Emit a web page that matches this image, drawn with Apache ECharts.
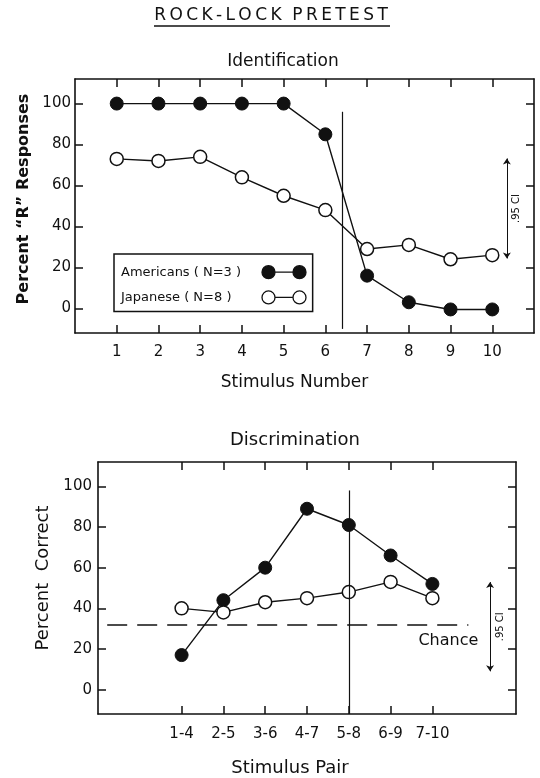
<!DOCTYPE html>
<html lang="en" style="height: 100%">
<head>
    <meta charset="utf-8">
</head>
<body style="height: 100%; margin: 0; background: #fff">
<div id="container" style="width: 540px; height: 778px"></div>
<script type="text/javascript" src="https://fastly.jsdelivr.net/npm/echarts@6.0.0/dist/echarts.min.js"></script>
<script type="text/javascript">

    // identification panel
    const stimNumbers = [1, 2, 3, 4, 5, 6, 7, 8, 9, 10];
    const idAmericans = [100, 100, 100, 100, 100, 85, 16, 3, -0.5, -0.5];
    const idJapanese = [73, 72, 74, 64, 55, 48, 29, 31, 24, 26];
    const idBoundary = [6.4, 96, -10];      // x, top, bottom
    const idCI = [10.35, 24.4, 73.2];        // x, lo, hi

    // discrimination panel
    const pairLabels = ['1-4', '2-5', '3-6', '4-7', '5-8', '6-9', '7-10'];
    const pairPos = [2, 3, 4, 5, 6, 7, 8];
    const discAmericans = [17, 44, 60, 89, 81, 66, 52];
    const discJapanese = [40, 38, 43, 45, 48, 53, 45];
    const discBoundary = [6, 98, -12];
    const discCI = [9.38, 9, 52.9];
    const chanceLevel = 32;
    const chanceSpan = [0.22, 8.86];

    const yTicks = [0, 20, 40, 60, 80, 100];
    const legendNames = ['Americans ( N=3 )', 'Japanese ( N=8 )'];

    const ink = '#111';
    const font = 'DejaVu Sans';

    var dom = document.getElementById('container');
    var myChart = echarts.init(dom, null, {renderer: 'canvas'});

    const twoDots = 'path://M0,6.5A6.5,6.5,0,1,0,13,6.5A6.5,6.5,0,1,0,0,6.5ZM13,6.5L31,6.5M31,6.5A6.5,6.5,0,1,0,44,6.5A6.5,6.5,0,1,0,31,6.5Z';

    function spaced(s) {
        return s.split('').join('\u2009');
    }

    function frameAxis(extra) {
        return Object.assign({
            type: 'value',
            axisLine: {show: true, onZero: false, lineStyle: {color: ink, width: 1.6}},
            splitLine: {show: false},
            axisTick: {show: true, inside: true, length: 8, lineStyle: {color: ink, width: 1.5}},
            axisLabel: {show: false}
        }, extra);
    }

    function ticksAt(values) {
        return {show: true, inside: true, length: 8, customValues: values, lineStyle: {color: ink, width: 1.5}};
    }

    function pairs(xs, ys) {
        return xs.map((x, i) => [x, ys[i]]);
    }

    const filled = {
        symbol: 'circle', symbolSize: 13,
        itemStyle: {color: ink, borderColor: ink, borderWidth: 1},
        lineStyle: {color: ink, width: 1.4}
    };
    const open = {
        symbol: 'circle', symbolSize: 13,
        itemStyle: {color: '#fff', borderColor: ink, borderWidth: 1.5},
        lineStyle: {color: ink, width: 1.4}
    };

    function vline(v) {
        return [{coord: [v[0], v[1]]}, {coord: [v[0], v[2]]}];
    }

    function ciLine(v, dist) {
        return {
            silent: true,
            symbol: ['arrow', 'arrow'],
            symbolSize: [6, 6],
            lineStyle: {color: ink, width: 1, type: 'solid'},
            label: {show: true, formatter: '.95 CI', position: 'middle', fontSize: 10, fontFamily: font, color: ink, distance: dist},
            data: [vline(v)]
        };
    }

    const option = {
        animation: false,
        backgroundColor: '#fff',
        textStyle: {fontFamily: font, color: ink},
        graphic: [
            {type: 'text', x: 271, y: 16, style: {text: spaced('ROCK-LOCK') + '  ' + spaced('PRETEST'), font: '17px "DejaVu Sans"', fill: ink, align: 'center', verticalAlign: 'middle'}},
            {type: 'line', shape: {x1: 154, y1: 26, x2: 390, y2: 26}, style: {stroke: ink, lineWidth: 1.3}},
            {type: 'text', x: 283, y: 62, style: {text: 'Identification', font: '17px "DejaVu Sans"', fill: ink, align: 'center', verticalAlign: 'middle'}},
            {type: 'text', x: 295, y: 440, style: {text: 'Discrimination', font: '18px "DejaVu Sans"', fill: ink, align: 'center', verticalAlign: 'middle'}}
        ],
        legend: {
            left: 114, top: 254,
            orient: 'vertical',
            align: 'right',
            padding: [11, 6, 7, 7],
            itemGap: 11,
            itemWidth: 44, itemHeight: 13,
            borderColor: ink, borderWidth: 1.5,
            formatter: name => '{t|' + name + '}',
            textStyle: {
                fontSize: 13, fontFamily: font, color: ink,
                rich: {t: {width: 136, align: 'left', fontSize: 13, fontFamily: font, color: ink}}
            },
            data: [
                {name: legendNames[0], icon: twoDots, itemStyle: {color: ink, borderColor: ink, borderWidth: 1.3}},
                {name: legendNames[1], icon: twoDots, itemStyle: {color: '#fff', borderColor: ink, borderWidth: 1.3}}
            ]
        },
        grid: [
            {left: 75, right: 6, top: 79, bottom: 445},
            {left: 98, right: 24, top: 462, bottom: 62}
        ],
        xAxis: [
            frameAxis({
                gridIndex: 0, position: 'bottom', min: 0, max: 11,
                axisTick: ticksAt(stimNumbers),
                axisLabel: {show: true, customValues: stimNumbers, margin: 12, fontSize: 15, color: ink, fontFamily: font},
                name: 'Stimulus Number', nameLocation: 'middle', nameGap: 41,
                nameTextStyle: {fontSize: 17, color: ink, fontFamily: font, padding: [0, 20, 0, 0]}
            }),
            frameAxis({gridIndex: 0, position: 'top', min: 0, max: 11, axisTick: ticksAt(stimNumbers)}),
            frameAxis({
                gridIndex: 1, position: 'bottom', min: 0, max: 10,
                axisTick: ticksAt(pairPos),
                axisLabel: {
                    show: true, customValues: pairPos, margin: 13, fontSize: 15, color: ink, fontFamily: font,
                    formatter: v => pairLabels[pairPos.indexOf(v)]
                },
                name: 'Stimulus Pair', nameLocation: 'middle', nameGap: 45,
                nameTextStyle: {fontSize: 18, color: ink, fontFamily: font, padding: [0, 34, 0, 0]}
            }),
            frameAxis({gridIndex: 1, position: 'top', min: 0, max: 10, axisTick: ticksAt(pairPos)})
        ],
        yAxis: [
            frameAxis({
                gridIndex: 0, position: 'left', min: -12, max: 112,
                axisTick: ticksAt(yTicks),
                axisLabel: {show: true, customValues: yTicks, margin: 4, fontSize: 15, color: ink, fontFamily: font},
                name: 'Percent \u201CR\u201D Responses', nameLocation: 'middle', nameGap: 43,
                nameTextStyle: {fontSize: 16, fontWeight: 'bold', color: ink, fontFamily: font, padding: [0, 0, 0, 14]}
            }),
            frameAxis({gridIndex: 0, position: 'right', min: -12, max: 112, axisTick: ticksAt(yTicks)}),
            frameAxis({
                gridIndex: 1, position: 'left', min: -12, max: 112,
                axisTick: ticksAt(yTicks),
                axisLabel: {show: true, customValues: yTicks, margin: 6, fontSize: 15, color: ink, fontFamily: font},
                name: 'Percent  Correct', nameLocation: 'middle', nameGap: 45,
                nameTextStyle: {fontSize: 18, color: ink, fontFamily: font, padding: [0, 0, 0, 20]}
            }),
            frameAxis({gridIndex: 1, position: 'right', min: -12, max: 112, axisTick: ticksAt(yTicks)})
        ],
        series: [
            Object.assign({
                type: 'line', name: legendNames[0], xAxisIndex: 0, yAxisIndex: 0,
                data: pairs(stimNumbers, idAmericans),
                z: 3,
                markLine: {
                    silent: true, symbol: 'none',
                    lineStyle: {color: ink, width: 1.2, type: 'solid'},
                    label: {show: false},
                    data: [vline(idBoundary)]
                }
            }, filled),
            Object.assign({
                type: 'line', name: legendNames[1], xAxisIndex: 0, yAxisIndex: 0,
                data: pairs(stimNumbers, idJapanese),
                z: 4,
                markLine: ciLine(idCI, -15)
            }, open),
            Object.assign({
                type: 'line', name: 'disc-am', xAxisIndex: 2, yAxisIndex: 2,
                data: pairs(pairPos, discAmericans),
                z: 3,
                markLine: {
                    silent: true, symbol: 'none',
                    lineStyle: {color: ink, width: 1.2, type: 'solid'},
                    label: {show: false},
                    data: [vline(discBoundary)]
                }
            }, filled),
            Object.assign({
                type: 'line', name: 'disc-jp', xAxisIndex: 2, yAxisIndex: 2,
                data: pairs(pairPos, discJapanese),
                z: 4,
                markLine: ciLine(discCI, -15)
            }, open),
            {
                type: 'line', name: 'chance', xAxisIndex: 2, yAxisIndex: 2,
                data: [], symbol: 'none',
                markLine: {
                    silent: true, symbol: 'none',
                    lineStyle: {color: ink, width: 1.6, type: [20, 10]},
                    label: {show: true, formatter: 'Chance', position: 'insideEndBottom', fontSize: 16, fontFamily: font, color: ink, distance: [-10, 8]},
                    data: [[{coord: [chanceSpan[0], chanceLevel]}, {coord: [chanceSpan[1], chanceLevel]}]]
                }
            }
        ]
    };

    myChart.setOption(option);

</script>
</body>
</html>
